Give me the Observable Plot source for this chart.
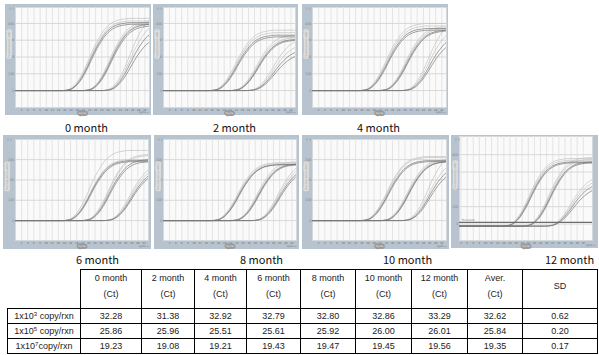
<!DOCTYPE html>
<html>
<head>
<meta charset="utf-8">
<script src="https://cdn.jsdelivr.net/npm/d3@7"></script>
<script src="https://cdn.jsdelivr.net/npm/@observablehq/plot@0.6"></script>
<style>
  html, body { margin: 0; padding: 0; background: #fff; }
  #wrap { position: relative; width: 599px; height: 355px; overflow: hidden; }
  .panel { position: absolute; }
  .panel svg { display: block; }
  .mlabel { position: absolute; font: 11px "Noto Sans CJK KR", "Noto Sans", sans-serif; color: #111; white-space: nowrap; line-height: 14px; }
  table.ct { position: absolute; left: 7px; top: 269px; border-collapse: collapse; table-layout: fixed;
    font: 9px "Liberation Sans Narrow", "Liberation Sans", sans-serif; color: #222; }
  table.ct td { border: 1px solid #000; text-align: center; padding: 0; white-space: nowrap; }
  table.ct tr.head td { height: 31px; line-height: 16px; vertical-align: middle; padding-bottom: 6px; }
  table.ct tr.row td { height: 14px; line-height: 14px; }
  table.ct td.empty { border: none; }
  table.ct sup { font-size: 6px; line-height: 0; vertical-align: 3px; }
</style>
</head>
<body>
<div id="wrap"></div>
<script>
// ---------------- data ----------------
const months = ["0 month", "2 month", "4 month", "6 month", "8 month", "10 month", "12 month"];
const tableHeads = ["0 month", "2 month", "4 month", "6 month", "8 month", "10 month", "12 month", "Aver.", "SD"];
const rowLabels = [["1x10", "3", " copy/rxn"], ["1x10", "5", " copy/rxn"], ["1x10", "7", "copy/rxn"]];
const ct1e3 = [32.28, 31.38, 32.92, 32.79, 32.80, 32.86, 33.29];
const ct1e5 = [25.86, 25.96, 25.51, 25.61, 25.92, 26.00, 26.01];
const ct1e7 = [19.23, 19.08, 19.21, 19.43, 19.47, 19.45, 19.56];
const averCt = ["32.62", "25.84", "19.35"];
const sdCt = ["0.62", "0.20", "0.17"];

// amplification curve shape (cycles after Ct -> fraction of plateau)
const profileOffset = [-4, -3, -2, -1, 0, 1, 2, 3, 4, 5, 6, 7, 8, 9, 10, 11, 12, 13, 14, 16, 18, 30];
const profileLevel  = [0, 0.003, 0.012, 0.03, 0.065, 0.115, 0.18, 0.26, 0.35, 0.45, 0.55, 0.64, 0.72, 0.79, 0.85, 0.895, 0.93, 0.955, 0.972, 0.99, 1, 1];
// replicate Ct spread within a dilution and replicate shade
const replicateShift = [-0.25, -0.05, 0.1, 0.3];
const replicateTone = ["light", "light", "dark", "dark"];
// plateau fluorescence per panel per replicate
const plateau1e7 = [[430,415,405,395],[360,345,330,320],[400,385,370,360],[345,300,295,290],[285,280,275,275],[315,310,295,290],[390,380,370,365]];
const plateau1e5 = [[410,400,395,385],[330,315,305,300],[380,370,360,355],[325,320,300,290],[290,280,278,275],[300,295,290,290],[395,385,370,365]];
const plateau1e3 = [[460,410,370,325],[310,275,245,220],[425,375,330,300],[280,265,250,240],[290,275,260,250],[345,295,270,250],[290,270,250,225]];
const baselineLevel = [0, 0, 0, 0, 0, 0, -12];
const thresholdLevel = [null, null, null, null, null, null, 10];
const cycleTicks = [2,4,6,8,10,12,14,16,18,20,22,24,26,28,30,32,34,36,38,40,42];
const cycleTickLabels = ["2","4","6","8","10","12","14","16","18","20","22","24","26","28","30","32","34","36","38","40","42"];
const fluorTicks = [[0,100,200,300,400],[0,100,200,300,400],[0,100,200,300,400],[0,100,200,300],[0,100,200,300],[0,100,200,300],[0,100,200,300,400]];

// ---------------- layout / style ----------------
const layout = [
  {left: 5,   top: 4,   width: 146, height: 111, ml: 10, mr: 2, mt: 3, mb: 8, xd: [0, 43.5], yd: [-101, 495]},
  {left: 153, top: 4,   width: 145, height: 111, ml: 10, mr: 3, mt: 3, mb: 8, xd: [0, 43.5], yd: [-101, 495]},
  {left: 302, top: 4,   width: 146, height: 111, ml: 10, mr: 2, mt: 3, mb: 8, xd: [0, 43.5], yd: [-101, 495]},
  {left: 3,   top: 135, width: 148, height: 114, ml: 12, mr: 3, mt: 4, mb: 9, xd: [0, 43.5], yd: [-98, 399]},
  {left: 154, top: 135, width: 145, height: 114, ml: 9,  mr: 3, mt: 4, mb: 9, xd: [0, 43.5], yd: [-98, 399]},
  {left: 302, top: 135, width: 147, height: 114, ml: 10, mr: 3, mt: 4, mb: 9, xd: [0, 43.5], yd: [-98, 399]},
  {left: 451, top: 135, width: 147, height: 113, ml: 8,  mr: 6, mt: 1, mb: 8, xd: [1.5, 45], yd: [-95, 505]}
];
const labelPos = [[65, 120], [213, 120], [357, 120], [76, 252], [240, 252], [383, 252], [545, 252]];
const toneColor = {light: "#c2c2c2", dark: "#787878"};
const frameColor = "#b7c3cf";

const wrap = document.getElementById("wrap");

months.forEach((m, p) => {
  const L = layout[p];
  const groups = [[ct1e7[p], plateau1e7[p]], [ct1e5[p], plateau1e5[p]], [ct1e3[p], plateau1e3[p]]];
  const pts = [];
  groups.forEach(([ct, plats], g) => {
    plats.forEach((pl, r) => {
      const id = `${g}-${r}`;
      const c0 = ct + replicateShift[r];
      const tone = replicateTone[r];
      pts.push({id, tone, cycle: L.xd[0], f: baselineLevel[p]});
      profileOffset.forEach((o, k) => pts.push({id, tone, cycle: c0 + o, f: baselineLevel[p] + pl * profileLevel[k]}));
    });
  });
  const light = pts.filter(d => d.tone === "light");
  const dark = pts.filter(d => d.tone === "dark");
  const marks = [
    Plot.frame({fill: "#fafafa", stroke: "#d4d9de"}),
    Plot.gridX(cycleTicks, {stroke: "#e4e4e4", strokeOpacity: 1}),
    Plot.gridY(fluorTicks[p], {stroke: "#d8d8d8", strokeOpacity: 1}),
    Plot.axisX(cycleTicks, {tickSize: 0, tickPadding: 1.5, fontSize: 2.6, fill: "#666", tickFormat: (d, i) => cycleTickLabels[i]}),
    Plot.axisY(fluorTicks[p], {anchor: "left", tickSize: 0, tickPadding: 1, fontSize: 3.4, fill: "#888"}),
    Plot.text(["Fluorescence (dRn)"], {frameAnchor: "left", dx: -L.ml + 4, rotate: -90, fontSize: 2.8, fill: "#999",
      stroke: "#dedede", strokeWidth: 3.2, strokeLinejoin: "round", paintOrder: "stroke"}),
    Plot.text(["Cycle"], {frameAnchor: "bottom", dy: 6, fontSize: 2.8, fill: "#eee",
      stroke: "#9a9a9a", strokeWidth: 3.5, strokeLinejoin: "round", paintOrder: "stroke"}),
    Plot.line(light, {x: "cycle", y: "f", z: "id", stroke: toneColor.light, strokeWidth: 0.7, curve: "monotone-x", clip: true}),
    Plot.line(dark, {x: "cycle", y: "f", z: "id", stroke: toneColor.dark, strokeWidth: 0.7, curve: "monotone-x", clip: true})
  ];
  if (thresholdLevel[p] !== null) {
    marks.push(Plot.ruleY([thresholdLevel[p]], {stroke: "#6d6d6d", strokeWidth: 1.3}));
    marks.push(Plot.text([thresholdLevel[p]], {y: d => d, frameAnchor: "left", dx: 2, dy: -2, fontSize: 2.6, fill: "#777", text: () => "Threshold"}));
  }
  const svg = Plot.plot({
    width: L.width, height: L.height,
    marginLeft: L.ml, marginRight: L.mr, marginTop: L.mt, marginBottom: L.mb,
    style: {background: frameColor, overflow: "visible", fontFamily: "DejaVu Sans"},
    x: {domain: L.xd, axis: null},
    y: {domain: L.yd, axis: null},
    marks
  });
  const div = document.createElement("div");
  div.className = "panel";
  div.style.left = L.left + "px";
  div.style.top = L.top + "px";
  div.appendChild(svg);
  wrap.appendChild(div);

  const lab = document.createElement("div");
  lab.className = "mlabel";
  lab.style.left = labelPos[p][0] + "px";
  lab.style.top = labelPos[p][1] + "px";
  lab.textContent = m;
  wrap.appendChild(lab);
});

// ---------------- table ----------------
const colWidths = [73, 61, 53, 52, 54, 55, 56, 56, 55, 75];
const table = document.createElement("table");
table.className = "ct";
const cg = document.createElement("colgroup");
colWidths.forEach(w => { const c = document.createElement("col"); c.style.width = w + "px"; cg.appendChild(c); });
table.appendChild(cg);
const head = document.createElement("tr");
head.className = "head";
const e = document.createElement("td"); e.className = "empty"; head.appendChild(e);
tableHeads.forEach(h => {
  const td = document.createElement("td");
  td.innerHTML = h === "SD" ? "SD" : `${h}<br>(Ct)`;
  head.appendChild(td);
});
table.appendChild(head);
const rowsCt = [ct1e3, ct1e5, ct1e7];
rowsCt.forEach((vals, i) => {
  const tr = document.createElement("tr");
  tr.className = "row";
  const lt = document.createElement("td");
  lt.innerHTML = `${rowLabels[i][0]}<sup>${rowLabels[i][1]}</sup>${rowLabels[i][2]}`;
  tr.appendChild(lt);
  vals.forEach(v => { const td = document.createElement("td"); td.textContent = v.toFixed(2); tr.appendChild(td); });
  const a = document.createElement("td"); a.textContent = averCt[i]; tr.appendChild(a);
  const s = document.createElement("td"); s.textContent = sdCt[i]; tr.appendChild(s);
  table.appendChild(tr);
});
wrap.appendChild(table);
</script>
</body>
</html>
